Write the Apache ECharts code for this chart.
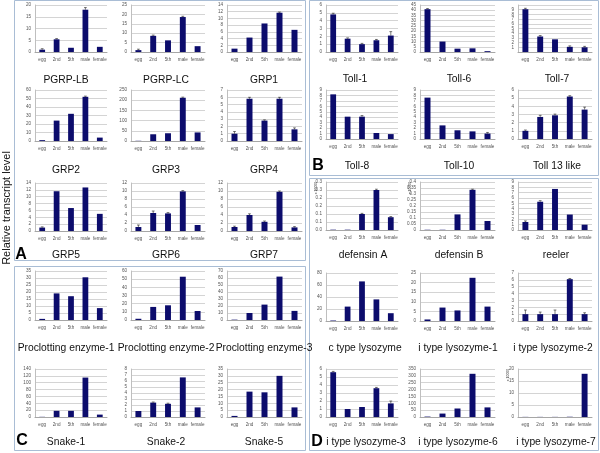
<!DOCTYPE html>
<html><head><meta charset="utf-8">
<script src="https://cdn.jsdelivr.net/npm/echarts/dist/echarts.min.js"></script>
<style>html,body{margin:0;padding:0;background:#fff}#c{width:600px;height:453px}</style>
</head><body><div id="c"></div>
<script>
// ---------- DATA ----------
const categories = ['egg', '2nd', '5th', 'male', 'female'];

const pgrpLB = [1.0, 5.4, 1.8, 18.0, 2.2];     const pgrpLBErr = [0.4, 0.3, 0.2, 0.9, 0.2];
const pgrpLC = [1.0, 8.6, 6.2, 18.6, 3.1];     const pgrpLCErr = [0.5, 0.4, 0.3, 0.4, 0.2];
const grp1 = [1.0, 4.3, 8.5, 11.7, 6.6];       const grp1Err = [0.1, 0.1, 0.1, 0.2, 0.1];
const grp2 = [1.0, 24, 32, 52, 4];             const grp2Err = [0.3, 0.5, 0.5, 0.8, 0.4];
const grp3 = [1, 33, 38, 212, 42];             const grp3Err = [1, 2, 2, 3, 2];
const grp4 = [1.0, 5.8, 2.8, 5.8, 1.6];        const grp4Err = [0.3, 0.2, 0.1, 0.2, 0.2];
const grp5 = [1.0, 11.6, 6.7, 12.7, 5.0];      const grp5Err = [0.2, 0.1, 0.1, 0.1, 0.1];
const grp6 = [1.0, 4.5, 4.4, 9.9, 1.5];        const grp6Err = [0.5, 0.5, 0.2, 0.2, 0.1];
const grp7 = [1.0, 4.0, 2.3, 9.8, 0.9];        const grp7Err = [0.2, 0.3, 0.2, 0.2, 0.2];
const proc1 = [0.8, 19, 17, 30.5, 8.5];        const proc1Err = [0.2, 0.3, 0.3, 0.3, 0.2];
const proc2 = [1.5, 16, 18, 53, 11];           const proc2Err = [0.3, 0.4, 0.4, 0.5, 0.3];
const proc3 = [0.5, 10, 22, 62, 13];           const proc3Err = [0.2, 0.4, 0.4, 0.6, 0.4];
const snake1 = [0.5, 18, 18, 115, 7];          const snake1Err = [0.2, 1, 1, 1.5, 0.5];
const snake2 = [1.0, 2.4, 2.2, 6.6, 1.6];      const snake2Err = [0.05, 0.1, 0.1, 0.1, 0.1];
const snake5 = [0.8, 18.5, 18, 30, 7];         const snake5Err = [0.2, 0.3, 0.3, 0.3, 0.2];

const toll1 = [4.8, 1.7, 1.0, 1.5, 2.1];       const toll1Err = [0.15, 0.1, 0.1, 0.1, 0.5];
const toll6 = [41, 10, 3.2, 3.5, 0.8];         const toll6Err = [0.6, 0.5, 0.3, 0.4, 0.2];
const toll7 = [9.1, 3.3, 2.7, 1.1, 1.0];       const toll7Err = [0.2, 0.2, 0.1, 0.2, 0.2];
const toll8 = [8.2, 4.1, 4.1, 1.1, 0.9];       const toll8Err = [0.1, 0.1, 0.2, 0.1, 0.1];
const toll10 = [7.6, 2.5, 1.6, 1.4, 1.0];      const toll10Err = [0.1, 0.1, 0.1, 0.1, 0.2];
const toll13 = [1.0, 2.7, 2.9, 5.2, 3.6];      const toll13Err = [0.1, 0.2, 0.15, 0.1, 0.3];
const defA = [0.002, 0.002, 0.1, 0.25, 0.08];  const defAErr = [0, 0, 0.004, 0.005, 0.004];
const defB = [0.002, 0.002, 0.13, 0.335, 0.075]; const defBErr = [0, 0, 0.004, 0.005, 0.004];
const reeler = [1.5, 5.3, 7.7, 2.9, 1.0];      const reelerErr = [0.2, 0.2, 0.1, 0.1, 0.1];
const cLys = [0.8, 24, 66, 36, 13];            const cLysErr = [0.3, 0.8, 0.8, 0.8, 0.6];
const iLys1 = [0.8, 7, 5.5, 22.5, 7.5];        const iLys1Err = [0.1, 0.2, 0.2, 0.2, 0.2];
const iLys2 = [1, 1, 1, 6.1, 1];               const iLys2Err = [0.6, 0.3, 0.6, 0.1, 0.2];
const iLys3 = [5.6, 1.0, 1.25, 3.6, 1.7];      const iLys3Err = [0.1, 0.05, 0.05, 0.1, 0.3];
const iLys6 = [3, 25, 62, 315, 70];            const iLys6Err = [1, 3, 3, 4, 3];
const iLys7 = [0.05, 0.05, 0.05, 0.1, 18];     const iLys7Err = [0, 0, 0, 0, 0.1];

const titles = [
  'PGRP-LB','PGRP-LC','GRP1','GRP2','GRP3','GRP4','GRP5','GRP6','GRP7',
  'Proclotting enzyme-1','Proclotting enzyme-2','Proclotting enzyme-3','Snake-1','Snake-2','Snake-5',
  'Toll-1','Toll-6','Toll-7','Toll-8','Toll-10','Toll 13 like',
  'defensin A','defensin B','reeler','c type lysozyme','i type lysozyme-1','i type lysozyme-2',
  'i type lysozyme-3','i type lysozyme-6','i type lysozyme-7'
];
const values = [pgrpLB,pgrpLC,grp1,grp2,grp3,grp4,grp5,grp6,grp7,proc1,proc2,proc3,snake1,snake2,snake5,
  toll1,toll6,toll7,toll8,toll10,toll13,defA,defB,reeler,cLys,iLys1,iLys2,iLys3,iLys6,iLys7];
const errors = [pgrpLBErr,pgrpLCErr,grp1Err,grp2Err,grp3Err,grp4Err,grp5Err,grp6Err,grp7Err,proc1Err,proc2Err,proc3Err,snake1Err,snake2Err,snake5Err,
  toll1Err,toll6Err,toll7Err,toll8Err,toll10Err,toll13Err,defAErr,defBErr,reelerErr,cLysErr,iLys1Err,iLys2Err,iLys3Err,iLys6Err,iLys7Err];
const yMax  = [20,25,14,60,250,7,14,12,12, 35,60,70,140,8,35, 6,45,10,9,9,6, 0.3,0.4,9,80,25,7, 6,350,20];
const yStep = [5,5,2,10,50,1,2,2,2, 5,10,10,20,1,5, 1,5,1,1,1,1, 0.05,0.05,1,20,5,1, 1,50,5];
const scaleNote = 'x 10000';
const scaled = [21, 22, 29];   // charts showing the "x 10000" note
const oneDecimal = [21];       // chart whose tick labels use one decimal

// ---------- LAYOUT ----------
const W = 600, H = 453;
const leftCols  = [[35,107],[131,205],[227,302]];
const rightCols = [[326,398],[420,495],[518,592]];
const leftRows  = [[5,52],[90,141],[183,231],[271,320],[369,417]];
const rightRows = [[5,52],[90,139],[182,230],[273,321],[369,417]];
const leftTitleX  = [66,166,264];
const rightTitleX = [[355,459,557],[357,459,557],[363,459,556],[365,458,553],[366,458,556]];
const leftTitleY  = [80,170,255,348,442];
const rightTitleY = [79,166,255,348,442];

const barColor = '#0c0c6c';
const grids = [], xAxes = [], yAxes = [], series = [], graphics = [];

for (let k = 0; k < 30; k++) {
  const right = k >= 15;
  const idx = right ? k - 15 : k;
  const r = Math.floor(idx / 3), c = idx % 3;
  const col = right ? rightCols[c] : leftCols[c];
  const row = right ? rightRows[r] : leftRows[r];
  grids.push({left: col[0], top: row[0], width: col[1] - col[0], height: row[1] - row[0], containLabel: false});
  xAxes.push({
    type: 'category', gridIndex: k, data: categories,
    axisLine: {show: true, lineStyle: {color: '#a6a6a6', width: 1}},
    axisTick: {show: false},
    axisLabel: {fontSize: 4.6, color: '#555', margin: 5, interval: 0, fontFamily: 'Liberation Sans'}
  });
  const dec1 = oneDecimal.includes(k);
  yAxes.push({
    type: 'value', gridIndex: k, min: 0, max: yMax[k], interval: yStep[k],
    axisLine: {show: true, lineStyle: {color: '#bfbfbf', width: 1}},
    axisTick: {show: false},
    splitLine: {show: true, lineStyle: {color: '#d4d4d4', width: 1}},
    axisLabel: {fontSize: 4.6, color: '#555', margin: 4, fontFamily: 'Liberation Sans',
      formatter: dec1 ? (v => (Math.round(v * 10 + 1e-9) / 10).toFixed(1))
                      : (v => String(Math.round(v * 1000) / 1000))}
  });
  series.push({
    type: 'bar', xAxisIndex: k, yAxisIndex: k, data: values[k],
    barWidth: '40%', itemStyle: {color: barColor}, silent: true, z: 2
  });
  const ed = values[k].map((v, j) => [j, v, v + errors[k][j]]);
  series.push({
    type: 'custom', xAxisIndex: k, yAxisIndex: k, data: ed, silent: true, z: 3,
    renderItem: function (params, api) {
      const p0 = api.coord([api.value(0), api.value(1)]);
      const p1 = api.coord([api.value(0), api.value(2)]);
      if (Math.abs(p0[1] - p1[1]) < 0.6) return null;
      const cap = 1.4;
      return {type: 'group', children: [
        {type: 'line', shape: {x1: p0[0], y1: p0[1], x2: p0[0], y2: p1[1]}, style: {stroke: '#222', lineWidth: 0.6}},
        {type: 'line', shape: {x1: p0[0] - cap, y1: p1[1], x2: p0[0] + cap, y2: p1[1]}, style: {stroke: '#222', lineWidth: 0.6}}
      ]};
    }
  });
  const tx = right ? rightTitleX[r][c] : leftTitleX[c];
  const ty = right ? rightTitleY[r] : leftTitleY[r];
  graphics.push({type: 'text', left: null, x: tx, y: ty, style: {
    text: titles[k], fill: '#111', font: '10.3px "Liberation Sans", Arial, sans-serif',
    textAlign: 'center', textVerticalAlign: 'middle'}});
  if (scaled.includes(k)) {
    graphics.push({type: 'text', x: col[0] - 10, y: row[0] + 6, rotation: Math.PI / 2, style: {
      text: scaleNote, fill: '#333', font: '3.5px "Liberation Sans", Arial, sans-serif',
      textAlign: 'center', textVerticalAlign: 'middle'}});
  }
}

// panel boxes
const boxColor = '#a9bdd5';
[[14.5, 0.5, 291, 260], [14.5, 266.5, 291, 184], [309.5, 0.5, 289, 175], [309.5, 178.5, 289, 272]].forEach(b => {
  graphics.push({type: 'rect', shape: {x: b[0], y: b[1], width: b[2], height: b[3]},
    style: {fill: 'none', stroke: boxColor, lineWidth: 1}, silent: true, z: -1});
});
// panel letters
[['A', 21, 255], ['B', 318, 166], ['C', 22, 441], ['D', 317, 442]].forEach(l => {
  graphics.push({type: 'text', x: l[1], y: l[2], style: {text: l[0], fill: '#000',
    font: 'bold 16px "Liberation Sans", Arial, sans-serif', textAlign: 'center', textVerticalAlign: 'middle'}});
});
// y title
graphics.push({type: 'text', x: 7, y: 208, rotation: Math.PI / 2, style: {text: 'Relative transcript level',
  fill: '#111', font: '11px "Liberation Sans", Arial, sans-serif', textAlign: 'center', textVerticalAlign: 'middle'}});

const chart = echarts.init(document.getElementById('c'), null, {renderer: 'canvas'});
chart.setOption({
  animation: false, backgroundColor: '#fff',
  grid: grids, xAxis: xAxes, yAxis: yAxes, series: series, graphic: {elements: graphics}
});
</script></body></html>
